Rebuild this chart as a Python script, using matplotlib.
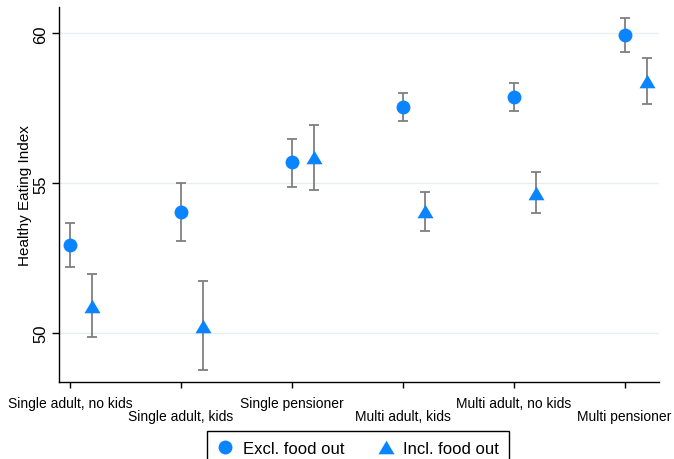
import matplotlib
matplotlib.use("Agg")
import matplotlib.pyplot as plt
from matplotlib.lines import Line2D
import numpy as np

plt.rcParams['font.family'] = ['Liberation Sans', 'DejaVu Sans']

categories = ["Single adult, no kids", "Single adult, kids", "Single pensioner",
              "Multi adult, kids", "Multi adult, no kids", "Multi pensioner"]

# Healthy Eating Index estimates with confidence bounds
excl_mean = [52.95, 54.04, 55.70, 57.56, 57.89, 59.96]
excl_low = [52.21, 53.06, 54.89, 57.08, 57.41, 59.37]
excl_high = [53.67, 55.00, 56.48, 58.01, 58.36, 60.52]

incl_mean = [50.92, 50.25, 55.86, 54.07, 54.69, 58.41]
incl_low = [49.86, 48.76, 54.76, 53.42, 54.02, 57.63]
incl_high = [51.98, 51.73, 56.95, 54.71, 55.36, 59.19]

y_ticks = [50, 55, 60]

blue = "#0A84FF"
bar_grey = "#7F7F7F"

# slightly squat triangle marker
tri = [(0, 0.85), (-1, -0.85), (1, -0.85), (0, 0.85)]

fig = plt.figure(figsize=(6.74, 4.60), dpi=100)
ax = fig.add_axes([59 / 674, 1 - 383 / 460, 600 / 674, 375 / 460])

x = np.arange(1, len(categories) + 1)
offset = 0.2

def draw_series(xpos, mean, low, high, marker, ms):
    mean = np.asarray(mean)
    yerr = np.vstack([mean - np.asarray(low), np.asarray(high) - mean])
    ax.errorbar(xpos, mean, yerr=yerr, fmt='none', ecolor=bar_grey,
                elinewidth=1.3, capsize=3.4, capthick=1.3, zorder=2)
    ax.plot(xpos, mean, linestyle='none', marker=marker, markersize=ms,
            color=blue, markeredgewidth=0, zorder=3)

draw_series(x, excl_mean, excl_low, excl_high, 'o', 10)
draw_series(x + offset, incl_mean, incl_low, incl_high, tri, 11.5)

ax.set_xlim(0.9, 6.31)
ax.set_ylim(48.37, 60.88)

ax.set_yticks(y_ticks)
ax.set_yticklabels([str(v) for v in y_ticks], rotation=90, va='center')
ax.set_xticks(x)
ax.set_xticklabels(categories)

for s in ['top', 'right']:
    ax.spines[s].set_visible(False)
for s in ['left', 'bottom']:
    ax.spines[s].set_linewidth(1.0)
    ax.spines[s].set_color('black')

ax.tick_params(axis='y', length=5, width=1, labelsize=12, pad=2.5)
ax.tick_params(axis='x', length=4.5, width=1, labelsize=10, pad=5.5)
for i, tick in enumerate(ax.xaxis.get_major_ticks()):
    if i % 2 == 1:
        tick.set_pad(15)

ax.grid(axis='y', color='#E6EFF1', linewidth=1.0)
ax.set_axisbelow(True)

ax.set_ylabel("Healthy Eating Index", fontsize=11, labelpad=1)

handles = [
    Line2D([], [], linestyle='none', marker='o', markersize=10, color=blue, markeredgewidth=0),
    Line2D([], [], linestyle='none', marker=tri, markersize=11.5, color=blue, markeredgewidth=0),
]
leg = fig.legend(handles, ["Excl. food out", "Incl. food out"], loc='upper center',
                 bbox_to_anchor=(358 / 674, 1 - 432 / 460), ncol=2, fontsize=12,
                 frameon=True, fancybox=False, edgecolor='black', framealpha=1,
                 handlelength=1.0, handletextpad=0.55, columnspacing=2.0,
                 borderpad=0.6, borderaxespad=0)
leg.get_frame().set_linewidth(1.0)

fig.savefig("out.png", dpi=100, facecolor='white')
